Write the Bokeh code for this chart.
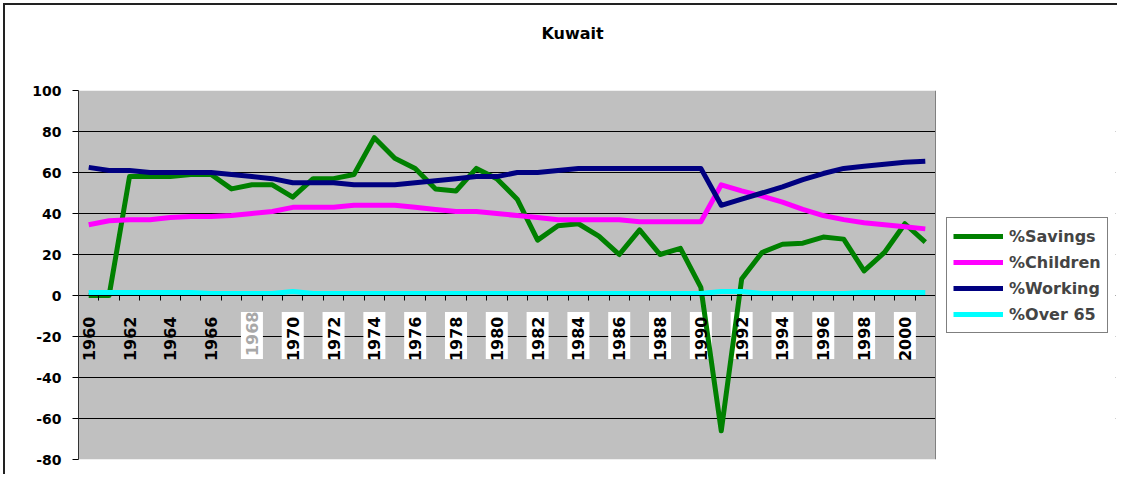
import math
from bokeh.plotting import figure
from bokeh.models import (Range1d, FixedTicker, Legend, LegendItem, LinearAxis, Title,
                          BoxAnnotation, Span)
from bokeh.embed import file_html
from bokeh.resources import INLINE

years = list(range(1960, 2002))
tick_years = list(range(1960, 2001, 2))
tick_labels = [str(y) for y in tick_years]
boxed_years = list(range(1968, 2001, 2))
faded_year = 1968

savings = [0, 0, 58, 58, 58, 59, 59, 52, 54, 54, 48, 57, 57, 59, 77, 67, 62, 52, 51, 62,
           57, 47, 27, 34, 35, 29, 20, 32, 20, 23, 4, -66, 8, 21, 25, 25.5, 28.5, 27.5, 12, 21,
           35, 26]
children = [34.5, 36.5, 37, 37, 38, 38.5, 38.5, 39, 40, 41, 43, 43, 43, 44, 44, 44, 43, 42, 41, 41,
            40, 39, 38, 37, 37, 37, 37, 36, 36, 36, 36, 54, 51, 48.5, 45.5, 42, 39, 37, 35.5, 34.5,
            33.5, 32.5]
working = [62.5, 61, 61, 60, 60, 60, 60, 59, 58, 57, 55, 55, 55, 54, 54, 54, 55, 56, 57, 58,
           58, 60, 60, 61, 62, 62, 62, 62, 62, 62, 62, 44, 47, 50, 53, 56.5, 59.5, 62, 63, 64,
           65, 65.5]
over65 = [1.5, 1.5, 1.5, 1.5, 1.5, 1.5, 1, 1, 1, 1, 2, 1, 1, 1, 1, 1, 1, 1, 1, 1,
          1, 1, 1, 1, 1, 1, 1, 1, 1, 1, 1, 2, 2, 1, 1, 1, 1, 1, 1.5, 1.5,
          1.5, 1.5]

series_names = ["%Savings", "%Children", "%Working", "%Over 65"]
series_values = [savings, children, working, over65]
series_colors = ["#008000", "#FF00FF", "#000080", "#00FFFF"]
y_ticks = list(range(-80, 101, 20))
y_tick_labels = [str(v) for v in y_ticks]

FONT = "DejaVu Sans"

x_start = years[0] - 0.5
x_plot_end = years[-1] + 0.5
# the frame continues to the right (white) to host the legend
x_canvas_end = x_plot_end + 180 * (x_plot_end - x_start) / 857

p = figure(width=1114, height=471, output_backend="svg", toolbar_location=None,
           x_range=Range1d(x_start, x_canvas_end), y_range=Range1d(-80, 100),
           min_border_left=73, min_border_right=4, min_border_top=85, min_border_bottom=17,
           background_fill_color="white", border_fill_color="white")
p.styles = {"border-left": "2px solid #222222", "border-top": "2px solid #222222",
            "margin-left": "3px", "margin-top": "3px"}
p.outline_line_color = None

# grey plot area (drawn below the grid)
p.add_layout(BoxAnnotation(right=x_plot_end, fill_color="#C0C0C0", fill_alpha=1,
                           line_color=None, level="image"))

# real title (outer) and a spacer title (inner, nearest the frame)
p.title.text = "Kuwait"
p.title.align = "left"
p.title.offset = 463
p.title.standoff = 0
p.title.text_font = FONT
p.title.text_font_style = "bold"
p.title.text_font_size = "16px"
p.title.text_color = "black"
p.add_layout(Title(text=" ", text_font_size="10px", standoff=35), "above")

# white boxes behind the rotated year labels
p.rect(x=boxed_years, y=-19.5, width=22, height=47, width_units="screen", height_units="screen",
       fill_color="white", line_color=None)

renderers = []
for name, vals, col in zip(series_names, series_values, series_colors):
    r = p.line(years, vals, line_color=col, line_width=5, line_join="round")
    renderers.append(r)


def style_xaxis(ax, ticks, color):
    ax.fixed_location = 0
    ax.major_label_overrides = {y: s for y, s in zip(tick_years, tick_labels) if y in ticks}
    ax.major_label_orientation = math.pi / 2
    ax.major_tick_out = 0
    ax.major_tick_in = 0
    ax.major_label_text_font = FONT
    ax.major_label_text_font_style = "bold"
    ax.major_label_text_font_size = "16px"
    ax.major_label_text_color = color
    ax.major_label_standoff = 16


main_ticks = [y for y in tick_years if y != faded_year]
xa = p.xaxis[0]
xa.ticker = FixedTicker(ticks=main_ticks, minor_ticks=[y - 0.5 for y in years] + [x_plot_end])
style_xaxis(xa, main_ticks, "black")
xa.minor_tick_out = 5
xa.minor_tick_in = 0
xa.minor_tick_line_color = "black"
xa.axis_line_color = "black"

xb = LinearAxis(ticker=FixedTicker(ticks=[faded_year], minor_ticks=[]))
style_xaxis(xb, [faded_year], "#A8A8A8")
xb.axis_line_color = None
xb.minor_tick_line_color = None
xb.major_tick_line_color = None
p.add_layout(xb, "below")

ya = p.yaxis[0]
ya.ticker = FixedTicker(ticks=y_ticks)
ya.major_label_overrides = {v: s for v, s in zip(y_ticks, y_tick_labels)}
ya.minor_tick_line_color = None
ya.major_tick_out = 6
ya.major_tick_in = 0
ya.major_tick_line_color = "black"
ya.axis_line_color = "#333333"
ya.major_label_text_font = FONT
ya.major_label_text_font_style = "bold"
ya.major_label_text_font_size = "14px"
ya.major_label_text_color = "black"
ya.major_label_standoff = 11

p.xgrid.grid_line_color = None
p.ygrid.ticker = FixedTicker(ticks=y_ticks)
p.ygrid.grid_line_color = "black"
p.ygrid.grid_line_width = 1

# white area right of the plot area hides grid and axis there; grey right edge
p.add_layout(BoxAnnotation(left=x_plot_end, fill_color="white", fill_alpha=1, line_color=None))
p.add_layout(Span(location=x_plot_end, dimension="height", line_color="#808080", line_width=1))

legend = Legend(items=[LegendItem(label=n, renderers=[r]) for n, r in zip(series_names, renderers)],
                location=(868, 126), orientation="vertical",
                border_line_color="black", border_line_width=1, background_fill_color="white",
                background_fill_alpha=1, padding=6, margin=0, spacing=2,
                glyph_width=50, glyph_height=24, label_height=24, label_width=92,
                label_standoff=6, label_text_font=FONT, label_text_font_style="bold",
                label_text_font_size="16px")
p.add_layout(legend, "center")

open("out.html", "w").write(file_html(p, INLINE))
